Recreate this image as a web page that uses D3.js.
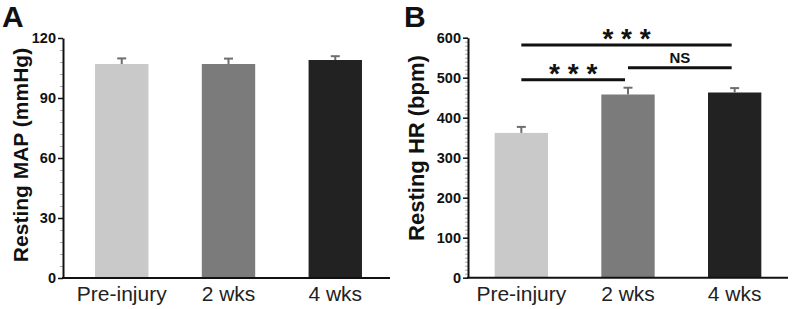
<!DOCTYPE html>
<html>
<head>
<meta charset="utf-8">
<script src="https://cdn.jsdelivr.net/npm/d3@7"></script>
<style>
  body { margin: 0; background: #fff; }
  svg { font-family: "Liberation Sans", Arial, sans-serif; }
</style>
</head>
<body>
<svg id="chart" width="792" height="309"></svg>
<script>
// Data
const groups = ["Pre-injury", "2 wks", "4 wks"];
const barColors = ["#c9c9c9", "#7b7b7b", "#222222"];

const mapMean = [107, 107, 109];
const mapErr = [2.8, 2.7, 1.9];
const mapTicks = [0, 30, 60, 90, 120];

const hrMean = [362, 458, 463];
const hrErr = [15, 17, 11];
const hrTicks = [0, 100, 200, 300, 400, 500, 600];

// significance brackets for panel B: [from, to, label, value level]
const hrSig = [
    ["Pre-injury", "4 wks", "* * *", 582],
    ["Pre-injury", "2 wks", "* * *", 495],
    ["2 wks", "4 wks", "NS", 525]
];

const svg = d3.select("#chart");

function drawPanel(opts) {
    const g = svg.append("g");

    let x = d3.scaleBand()
        .domain(groups)
        .range(opts.xRange)
        .paddingInner(0.5)
        .paddingOuter(opts.padOuter);

    let y = d3.scaleLinear()
        .domain([0, opts.max])
        .range(opts.yRange);

    // minor ticks
    g.append("g")
        .attr("transform", `translate(${opts.xRange[0]},0)`)
        .call(d3.axisLeft(y).tickValues(d3.range(0, opts.max + 0.001, opts.minorStep)).tickSize(3).tickFormat(""))
        .call(a => a.select(".domain").remove())
        .selectAll("line").attr("stroke", "#aaa").attr("stroke-width", 1);

    // bars
    g.selectAll(".bar")
        .data(opts.mean)
        .enter().append("rect")
        .attr("x", (d, i) => x(groups[i]))
        .attr("y", d => y(d))
        .attr("width", x.bandwidth())
        .attr("height", d => y(0) - y(d))
        .attr("fill", (d, i) => barColors[i]);

    // error bars (upper only)
    const cx = i => x(groups[i]) + x.bandwidth() / 2;
    g.selectAll(".err")
        .data(opts.mean)
        .enter().append("line")
        .attr("x1", (d, i) => cx(i))
        .attr("x2", (d, i) => cx(i))
        .attr("y1", d => y(d))
        .attr("y2", (d, i) => y(d + opts.err[i]))
        .attr("stroke", "#6e6e6e")
        .attr("stroke-width", 2);
    g.selectAll(".cap")
        .data(opts.mean)
        .enter().append("line")
        .attr("x1", (d, i) => cx(i) - 4.5)
        .attr("x2", (d, i) => cx(i) + 4.5)
        .attr("y1", (d, i) => y(d + opts.err[i]))
        .attr("y2", (d, i) => y(d + opts.err[i]))
        .attr("stroke", "#6e6e6e")
        .attr("stroke-width", 2);

    // y axis
    let yAxis = g.append("g")
        .attr("transform", `translate(${opts.xRange[0]},0)`)
        .call(d3.axisLeft(y).tickValues(opts.ticks).tickSize(5).tickSizeOuter(0).tickPadding(2));
    yAxis.select(".domain").attr("stroke", "#111").attr("stroke-width", 2);
    yAxis.selectAll(".tick line").attr("stroke", "#111").attr("stroke-width", 1.5);
    yAxis.selectAll("text")
        .attr("font-size", 14.5)
        .attr("font-weight", "bold")
        .attr("fill", "#111")
        .attr("font-family", "Liberation Sans, Arial, sans-serif");

    // x axis
    let xAxis = g.append("g")
        .attr("transform", `translate(0,${opts.yRange[0]})`)
        .call(d3.axisBottom(x).tickSize(0).tickSizeOuter(0).tickPadding(8));
    xAxis.select(".domain").attr("stroke", "#111").attr("stroke-width", 2)
        .attr("d", `M${opts.xRange[0] - 1},0H${opts.xEnd}`);
    xAxis.selectAll("text")
        .attr("font-size", 21)
        .attr("fill", "#222")
        .attr("font-family", "Liberation Sans, Arial, sans-serif");

    // y title
    g.append("text")
        .attr("transform", `translate(${opts.titleX},${opts.titleY}) rotate(-90)`)
        .attr("text-anchor", "middle")
        .attr("font-size", opts.titleSize)
        .attr("font-weight", "bold")
        .attr("fill", "#111")
        .text(opts.title);

    // panel letter
    g.append("text")
        .attr("x", opts.letterX)
        .attr("y", 27)
        .attr("font-size", 30)
        .attr("font-weight", "bold")
        .attr("fill", "#111")
        .text(opts.letter);

    return { g, x, y };
}

drawPanel({
    letter: "A", letterX: 2,
    mean: mapMean, err: mapErr, ticks: mapTicks, max: 120, minorStep: 6,
    xRange: [63, 394], xEnd: 390, padOuter: 0.3, yRange: [278, 38],
    title: "Resting MAP (mmHg)", titleX: 28, titleY: 155, titleSize: 21
});

let b = drawPanel({
    letter: "B", letterX: 404,
    mean: hrMean, err: hrErr, ticks: hrTicks, max: 600, minorStep: 10,
    xRange: [468, 788], xEnd: 788, padOuter: 0.25, yRange: [277.7, 37.7],
    title: "Resting HR (bpm)", titleX: 424, titleY: 148, titleSize: 22
});

// significance brackets
const mid = k => b.x(k) + b.x.bandwidth() / 2;
hrSig.forEach(s => {
    let x1 = mid(s[0]), x2 = mid(s[1]) - 3;
    let yy = b.y(s[3]);
    b.g.append("line")
        .attr("x1", x1).attr("x2", x2)
        .attr("y1", yy).attr("y2", yy)
        .attr("stroke", "#111")
        .attr("stroke-width", 3);
    let isNS = s[2] === "NS";
    b.g.append("text")
        .attr("x", (x1 + x2) / 2)
        .attr("y", isNS ? yy - 5 : yy + 3)
        .attr("text-anchor", "middle")
        .attr("font-size", isNS ? 15 : 28)
        .attr("font-weight", "bold")
        .attr("fill", "#111")
        .text(s[2]);
});
</script>
</body>
</html>
